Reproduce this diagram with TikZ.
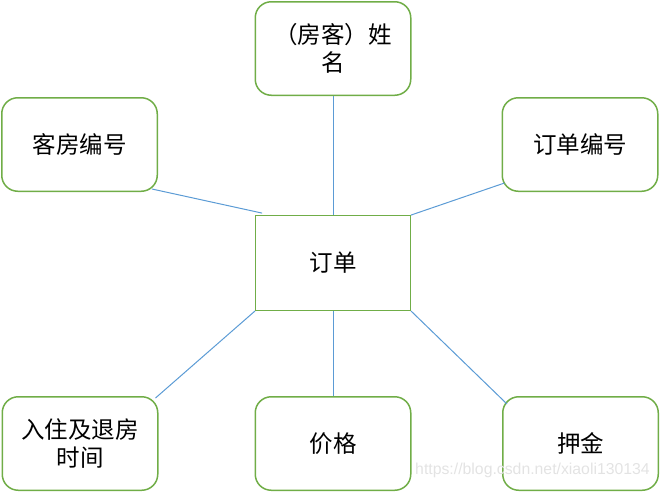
\documentclass[tikz,border=0pt]{standalone}
\usepackage{fontspec}
\newfontfamily\cjk{Noto Sans CJK SC}
\newfontfamily\wmfont{Liberation Sans}
\usepackage{xcolor}
\definecolor{boxgreen}{HTML}{70AD47}
\definecolor{linkblue}{HTML}{5B9BD5}
\usetikzlibrary{positioning}
\tikzstyle{attr} = [rectangle, draw=boxgreen, line width=1.5pt, rounded corners=16pt,
    text width=125pt, align=center, minimum width=155.5pt, minimum height=93.5pt,
    inner sep=0pt, font=\cjk\fontsize{23.5}{28}\selectfont]
\tikzstyle{entity} = [rectangle, draw=boxgreen, line width=0.8pt,
    minimum width=155pt, minimum height=95pt, inner sep=0pt,
    font=\cjk\fontsize{23.5}{28}\selectfont]
\tikzstyle{line} = [draw=linkblue, line width=1pt]
\begin{document}
\begin{tikzpicture}[x=1pt,y=1pt]
    \useasboundingbox (0,0) rectangle (660,-493);
    % Place nodes
    \node [entity] (order) at (333,-263) {订单};
    \node [attr, above of=order, node distance=214.5pt] (guest) {（房客）姓\\名};
    \node [attr] (roomno) at (79.5,-144.5) {客房编号};
    \node [attr] (orderno) at (580,-144.5) {订单编号};
    \node [attr, below of=order, node distance=180.5pt] (price) {价格};
    \node [attr, left of=price, node distance=253pt] (stay) {入住及退房\\时间};
    \node [attr, right of=price, node distance=247.5pt] (deposit) {押金};

    % Draw edges
    \path [line] (order) -- (guest);
    \path [line] ([shift={(-6,3)}]roomno.south east) -- ([shift={(7,2)}]order.north west);
    \path [line] (order.north east) -- ([shift={(3,9)}]orderno.south west);
    \path [line] (order.south west) -- ([shift={(-3,-2)}]stay.north east);
    \path [line] (order) -- (price);
    \path [line] (order.south east) -- ([shift={(5,-8)}]deposit.north west);

    % watermark
    \node [text=gray!22, font=\wmfont\fontsize{15.8}{18}\selectfont] (mark) at (532.5,-470) {https://blog.csdn.net/xiaoli130134};
\end{tikzpicture}
\end{document}
